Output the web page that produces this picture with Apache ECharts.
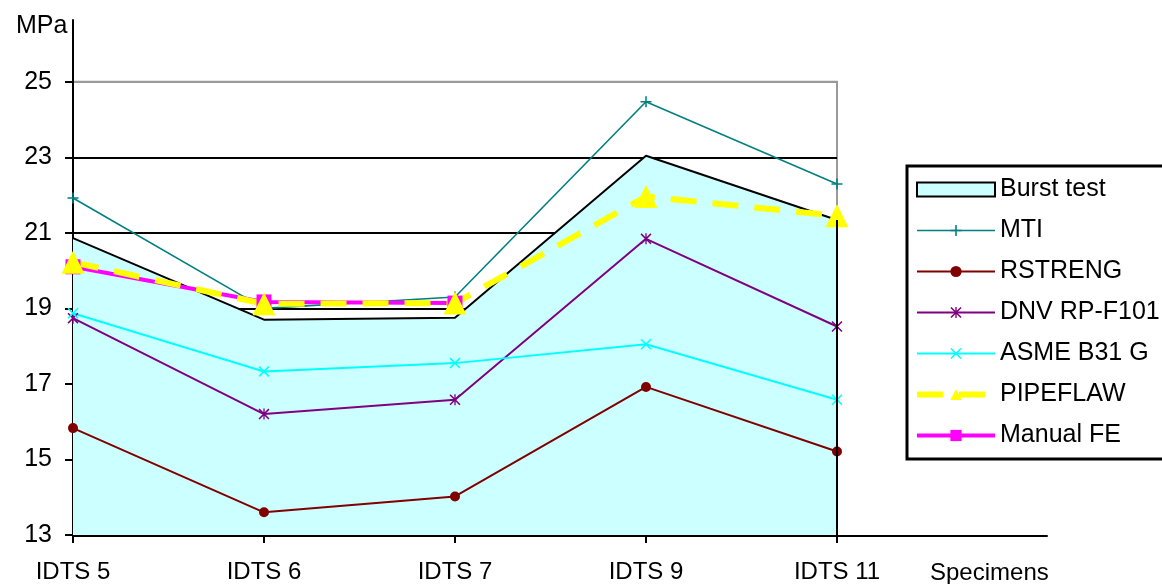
<!DOCTYPE html>
<html>
<head>
<meta charset="utf-8">
<script src="https://cdn.jsdelivr.net/npm/echarts@6/dist/echarts.min.js"></script>
<style>
  html, body { margin: 0; padding: 0; background: #fff; }
  #chart { width: 1162px; height: 584px; }
</style>
</head>
<body>
<div id="chart"></div>
<script>
// specimens and pressures (MPa)
var categories = ['IDTS 5', 'IDTS 6', 'IDTS 7', 'IDTS 9', 'IDTS 11'];
var yTicks = { min: 13, max: 25, interval: 2 };

var burstTest = [20.86, 18.7, 18.75, 23.04, 21.34];
var mti = [21.92, 19.0, 19.3, 24.47, 22.29];
var rstreng = [15.83, 13.6, 14.02, 16.92, 15.21];
var dnv = [18.74, 16.2, 16.58, 20.84, 18.52];
var asme = [18.87, 17.33, 17.55, 18.05, 16.58];
var pipeflaw = [20.22, 19.12, 19.14, 21.96, 21.45];
var manualFE = [20.1, 19.17, 19.14];

var FONT = '"Liberation Sans", Arial, sans-serif';

// marker shapes
var plusPath = 'path://M4.3,0H5.7V10H4.3Z M0,4.3H10V5.7H0Z';
var crossPath = 'path://M0,1L1,0L10,9L9,10Z M9,0L10,1L1,10L0,9Z';
var starPath = 'path://M0,1L1,0L10,9L9,10Z M9,0L10,1L1,10L0,9Z M4.4,0H5.6V10H4.4Z';

function lineSeries(name, data, color, symbol, size, width) {
  return {
    name: name,
    type: 'line',
    data: data,
    symbol: symbol,
    symbolSize: size,
    showAllSymbol: true,
    lineStyle: { color: color, width: width },
    itemStyle: { color: color },
    emphasis: { disabled: true },
    animation: false
  };
}

var chart = echarts.init(document.getElementById('chart'));

var pipeSeries = lineSeries('PIPEFLAW', pipeflaw, '#ffff00', 'triangle', 23, 6);
pipeSeries.lineStyle.type = [26, 16];

chart.setOption({
  backgroundColor: '#fff',
  textStyle: { fontFamily: FONT },
  title: [
    { text: 'MPa', left: 11, top: 9, textStyle: { fontSize: 25, fontWeight: 'normal', color: '#000', fontFamily: FONT } },
    { text: 'Specimens', left: 925, top: 556, textStyle: { fontSize: 24, fontWeight: 'normal', color: '#000', fontFamily: FONT } }
  ],
  legend: {
    orient: 'vertical',
    left: 907,
    top: 166,
    padding: [11, 60, 11, 7],
    borderColor: '#000',
    borderWidth: 3,
    itemWidth: 78,
    itemHeight: 14,
    itemGap: 16,
    selectedMode: false,
    lineStyle: { width: 'inherit' },
    textStyle: { fontSize: 25, color: '#000', fontFamily: FONT, lineHeight: 24 },
    data: [
      { name: 'Burst test', icon: 'rect', itemStyle: { color: '#ccffff', borderColor: '#000', borderWidth: 2 } },
      'MTI', 'RSTRENG', 'DNV RP-F101', 'ASME B31 G', 'PIPEFLAW', 'Manual FE'
    ]
  },
  grid: [
    { left: 73, right: 325, top: 81.7, bottom: 48.7, show: true, borderColor: '#9a9a9a', borderWidth: 2, backgroundColor: 'transparent' },
    { left: 73, right: 115, top: 20, bottom: 48.7 }
  ],
  xAxis: [
    {
      gridIndex: 0,
      type: 'category',
      data: categories,
      boundaryGap: false,
      axisLine: { show: false },
      axisTick: { show: true, length: 8, lineStyle: { color: '#000', width: 2 } },
      axisLabel: { fontSize: 24, color: '#000', margin: 25, fontFamily: FONT },
      splitLine: { show: false }
    },
    {
      gridIndex: 1,
      type: 'value',
      min: 0,
      max: 1,
      axisLine: { show: true, lineStyle: { color: '#000', width: 2 } },
      axisTick: { show: false },
      axisLabel: { show: false },
      splitLine: { show: false }
    }
  ],
  yAxis: [
    {
      gridIndex: 0,
      type: 'value',
      min: yTicks.min,
      max: yTicks.max,
      interval: yTicks.interval,
      axisLine: { show: false },
      axisTick: { show: true, length: 8, lineStyle: { color: '#000', width: 2 } },
      axisLabel: { fontSize: 25, color: '#000', margin: 21, fontFamily: FONT },
      splitLine: {
        show: true,
        lineStyle: { color: ['#000', '#000', '#000', '#000', '#000', '#000', '#9a9a9a'], width: 2 }
      }
    },
    {
      gridIndex: 1,
      type: 'value',
      min: 0,
      max: 1,
      axisLine: { show: true, lineStyle: { color: '#000', width: 2 } },
      axisTick: { show: false },
      axisLabel: { show: false },
      splitLine: { show: false }
    }
  ],
  series: [
    {
      name: 'Burst test',
      type: 'line',
      data: burstTest,
      symbol: 'none',
      lineStyle: { color: '#000', width: 2 },
      itemStyle: { color: '#000' },
      areaStyle: { color: '#ccffff', opacity: 1, origin: 'start' },
      emphasis: { disabled: true },
      animation: false,
      markLine: {
        silent: true,
        symbol: 'none',
        label: { show: false },
        lineStyle: { color: '#000', width: 2, type: 'solid' },
        animation: false,
        data: [[
          { coord: [categories[4], yTicks.min] },
          { coord: [categories[4], burstTest[4]] }
        ]]
      }
    },
    lineSeries('MTI', mti, '#008080', plusPath, 11, 1.6),
    lineSeries('RSTRENG', rstreng, '#800000', 'circle', 10, 2),
    lineSeries('DNV RP-F101', dnv, '#800080', starPath, 11, 2),
    lineSeries('ASME B31 G', asme, '#00ffff', crossPath, 11, 2),
    // manual FE is drawn first so the PIPEFLAW triangles sit on top of it
    lineSeries('Manual FE', manualFE, '#ff00ff', 'rect', 15, 4),
    pipeSeries
  ]
});
</script>
</body>
</html>
